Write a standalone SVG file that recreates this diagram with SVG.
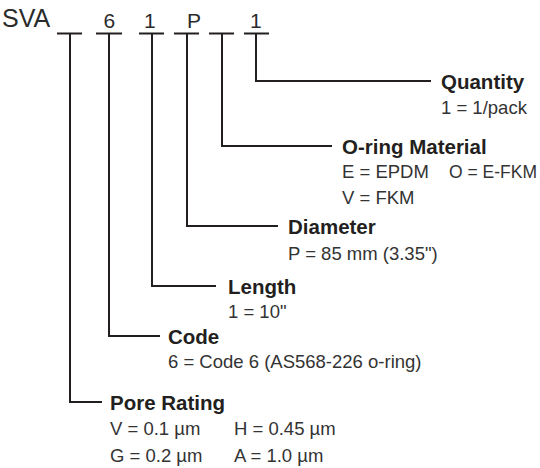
<svg xmlns="http://www.w3.org/2000/svg" width="540" height="468" viewBox="0 0 540 468">
<style>
.code{font-family:"Liberation Sans",Arial,sans-serif;font-size:21px;fill:#2b2b2b}
.big{font-size:25px}
.t{font-family:"Liberation Sans",Arial,sans-serif;font-size:20.5px;font-weight:bold;fill:#231f20}
.v{font-family:"Liberation Sans",Arial,sans-serif;font-size:18.5px;fill:#333}
.ln{fill:none;stroke:#231f20;stroke-width:2}
</style>
<rect width="540" height="468" fill="#fff"/>
<g id="code-header">
<text class="code big" x="2" y="27">SVA</text>
<text class="code" x="103.5" y="28">6</text>
<text class="code" x="144" y="28">1</text>
<text class="code" x="187" y="28">P</text>
<text class="code" x="250" y="28">1</text>
</g>
<g id="connectors">
<path class="ln" d="M57 33.5H82M96 33.5H122M139 33.5H164M174 33.5H199M209 33.5H234M244 33.5H269"/>
<path class="ln" d="M256 33.5V81H431"/>
<path class="ln" d="M222 33.5V146H332"/>
<path class="ln" d="M187 33.5V226H278"/>
<path class="ln" d="M152 33.5V286H216"/>
<path class="ln" d="M109 33.5V336H160"/>
<path class="ln" d="M70 33.5V402H102"/>
</g>
<g id="quantity">
<text class="t" x="441" y="89">Quantity</text>
<text class="v" x="441" y="114">1 = 1/pack</text>
</g>
<g id="oring-material">
<text class="t" x="342" y="154">O-ring Material</text>
<text class="v" x="342" y="178">E = EPDM</text>
<text class="v" x="449" y="178" style="font-size:17.5px">O = E-FKM</text>
<text class="v" x="342" y="204">V = FKM</text>
</g>
<g id="diameter">
<text class="t" x="288" y="234">Diameter</text>
<text class="v" x="288" y="260">P = 85 mm (3.35")</text>
</g>
<g id="length">
<text class="t" x="228" y="294">Length</text>
<text class="v" x="228" y="318">1 = 10"</text>
</g>
<g id="code">
<text class="t" x="168" y="344">Code</text>
<text class="v" x="168" y="368">6 = Code 6 (AS568-226 o-ring)</text>
</g>
<g id="pore-rating">
<text class="t" x="110" y="410">Pore Rating</text>
<text class="v" x="110" y="435">V = 0.1 µm</text>
<text class="v" x="234" y="435">H = 0.45 µm</text>
<text class="v" x="110" y="462">G = 0.2 µm</text>
<text class="v" x="234" y="462">A = 1.0 µm</text>
</g>
</svg>
